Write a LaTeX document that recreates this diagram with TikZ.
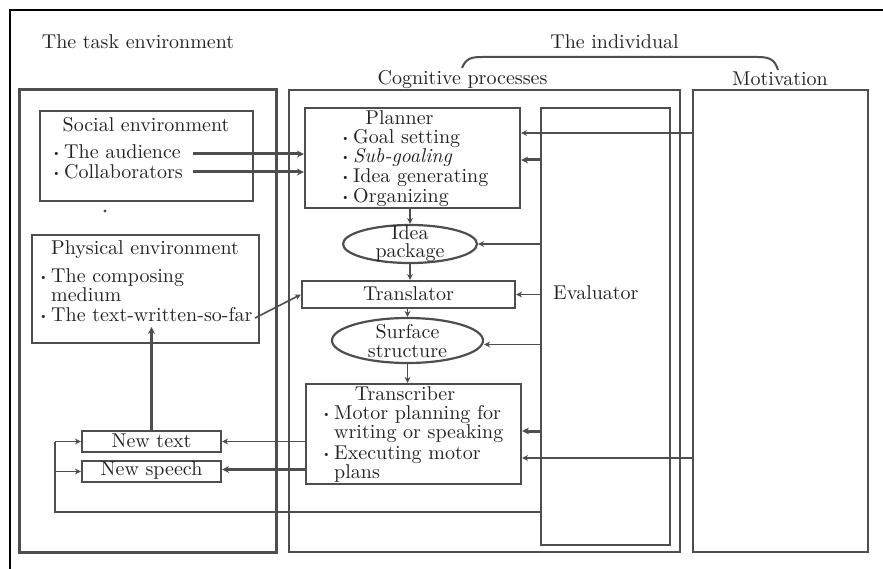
\documentclass[tikz,border=0pt]{standalone}
\usepackage{fontspec}
\setmainfont{lmroman10-regular.otf}[ItalicFont=lmroman10-italic.otf]
\usetikzlibrary{arrows.meta,shapes.geometric}
\definecolor{ln}{RGB}{78,78,78}
\definecolor{tx}{RGB}{35,35,35}
\newcommand{\bul}{\makebox[12pt][l]{\raisebox{2pt}{\fontsize{11}{11}\selectfont\textbullet}}}
\newcommand{\ind}{\hspace*{12pt}}
\begin{document}
\begin{tikzpicture}[x=1pt,y=-1pt,
  font=\fontsize{20}{24}\selectfont, text=tx,
  box/.style={draw=ln, line width=2.2pt, inner sep=0pt, rectangle},
  oval/.style={draw=ln, line width=2.2pt, inner sep=0pt, ellipse},
  txt/.style={inner sep=0pt},
  lft/.style={inner sep=0pt, anchor=west},
  list/.style={inner sep=0pt, anchor=north west, align=left},
  arr/.style={draw=ln, line width=1.6pt, -{Stealth[length=6pt,width=6pt]}},
  tarr/.style={draw=ln, line width=3pt, -{Stealth[length=7pt,width=7pt]}},
  fbline/.style={draw=ln, line width=1.8pt}]
\useasboundingbox (0,0) rectangle (883,569);
% outer frame
\draw[black, line width=1.5pt] (10,569) -- (10,10) -- (883,10);
% big boxes
\node[box, line width=3pt, minimum width=257, minimum height=462] (task) at (147.5,321) {};
\node[box, line width=2pt, minimum width=391, minimum height=462] (cog) at (484.5,321) {};
\node[box, line width=2.6pt, minimum width=175, minimum height=462] (motiv) at (780.5,321) {};
\node[box, line width=2pt, minimum width=129, minimum height=437] (eval) at (605.5,326.5) {};
% inner boxes
\node[box, minimum width=213, minimum height=90] (social) at (146.5,156) {};
\node[box, minimum width=227, minimum height=108] (phys) at (145.5,289) {};
\node[box, minimum width=215, minimum height=100] (planner) at (412.5,158) {};
\node[oval, minimum width=134, minimum height=38] (idea) at (410,244) {};
\node[box, minimum width=213, minimum height=27] (transl) at (408.5,294.5) {};
\node[oval, minimum width=151, minimum height=45] (surf) at (407.5,340.5) {};
\node[box, minimum width=215, minimum height=100] (transc) at (413.5,434) {};
\node[box, minimum width=139, minimum height=21] (newtext) at (151.5,441.5) {};
\node[box, minimum width=139, minimum height=21] (newspeech) at (151.5,471.5) {};
% headings
\node[txt] (tTask) at (138,42) {The task environment};
\node[txt] (tInd) at (614.5,42) {The individual};
\node[txt] (tCog) at (462.5,80) {Cognitive processes};
\node[txt] (tMot) at (780,79) {Motivation};
\draw[ln, line width=2pt] (462,68) .. controls (466,58) and (472,57) .. (482,57) -- (758,57) .. controls (770,57) and (775,60) .. (778,70);
% social
\node[txt] (tSoc) at (146,125) {Social environment};
\node[lft] (tAud) at (52,152) {\bul The audience};
\node[lft] (tCol) at (52,172) {\bul Collaborators};
\fill[ln] (105,211) circle (1.7);
% physical
\node[txt] (tPhy) at (145,250) {Physical environment};
\node[list, font=\fontsize{20}{19.5}\selectfont] (tPhyL) at (39,268)
  {\bul The composing\\ \ind medium\\ \bul The text-written-so-far};
\coordinate (txtEnd) at (255,318);
% planner
\node[txt] (tPlan) at (399.5,118) {Planner};
\node[list, font=\fontsize{20}{19.6}\selectfont] (tPlanL) at (341,129)
  {\bul Goal setting\\ \bul \textit{Sub-goaling}\\ \bul Idea generating\\ \bul Organizing};
% idea package
\node[txt, align=center, font=\fontsize{20}{18}\selectfont] (tIdea) at (410,244) {Idea\\package};
% translator
\node[txt] (tTransl) at (408.5,294) {Translator};
% surface structure
\node[txt, align=center, font=\fontsize{20}{19}\selectfont] (tSurf) at (407.5,341) {Surface\\structure};
% transcriber
\node[txt] (tTrans) at (405,394) {Transcriber};
\node[list, font=\fontsize{20}{19.2}\selectfont] (tTransL) at (322,405)
  {\bul Motor planning for\\ \ind writing or speaking\\[1.5pt] \bul Executing motor\\ \ind plans};
% evaluator
\node[lft] (tEval) at (553,293) {Evaluator};
% new text / speech
\node[txt] (tNT) at (151.5,441) {New text};
\node[txt] (tNS) at (151.5,470) {New speech};
% helper coordinates
\coordinate (yA) at (193,154);
\coordinate (yC) at (193,172);
\coordinate (yM1) at (0,133);
\coordinate (yE1) at (0,160);
\coordinate (yE5) at (0,431);
\coordinate (yM2) at (0,458);
\coordinate (yF) at (0,512);
\coordinate (fbx) at (55,0);
\coordinate (pT) at (0,327);
% connectors
\draw[tarr] (yA) -- (yA -| planner.west);
\draw[tarr] (yC) -- (yC -| planner.west);
\draw[arr] (yM1 -| motiv.west) -- (yM1 -| planner.east);
\draw[tarr] (yE1 -| eval.west) -- (yE1 -| planner.east);
\draw[arr] (planner.south -| idea.north) -- (idea.north);
\draw[arr] (idea.east -| eval.west) -- (idea.east);
\draw[arr] (idea.south) -- (idea.south |- transl.north);
\draw[arr] (transl.east -| eval.west) -- (transl.east);
\draw[arr] (txtEnd) -- (transl.west);
\draw[arr] (transl.south -| surf.north) -- (surf.north);
\draw[arr] ([yshift=-4pt]surf.east -| eval.west) -- ([yshift=-4pt]surf.east);
\draw[arr] (surf.south) -- (surf.south |- transc.north);
\draw[tarr] (yE5 -| eval.west) -- (yE5 -| transc.east);
\draw[arr] (yM2 -| motiv.west) -- (yM2 -| transc.east);
\draw[arr] (newtext.east -| transc.west) -- (newtext.east);
\draw[tarr] ([yshift=2pt]newspeech.east -| transc.west) -- ([yshift=2pt]newspeech.east);
\draw[tarr] (newtext.north) -- (newtext.north |- pT);
\draw[fbline] (yF -| eval.west) -- (yF -| fbx) -- (newtext.west -| fbx);
\draw[arr] (newtext.west -| fbx) -- (newtext.west);
\draw[arr] (newspeech.west -| fbx) -- (newspeech.west);
\end{tikzpicture}
\end{document}
